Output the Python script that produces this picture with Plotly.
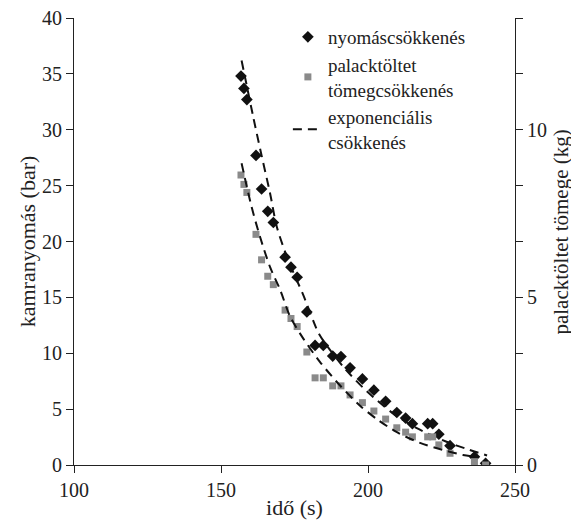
import plotly.graph_objects as go

# time points (s)
ido = [156.8, 157.8, 158.8, 161.9, 163.8, 165.9, 167.8, 171.8, 173.8, 175.9,
       179.2, 182.0, 184.8, 188.0, 190.8, 193.9, 198.1, 202.0, 206.0, 209.8,
       212.8, 215.1, 220.3, 222.0, 224.1, 227.9, 236.2, 240.0]
# chamber pressure (bar)
nyomas = [34.8, 33.7, 32.7, 27.7, 24.7, 22.7, 21.7, 18.6, 17.7, 16.8,
          13.7, 10.7, 10.7, 9.75, 9.7, 8.7, 7.7, 6.7, 5.7, 4.7,
          4.2, 3.7, 3.7, 3.7, 2.75, 1.73, 0.74, 0.15]
# bottle filling mass (kg)
tomeg = [8.65, 8.37, 8.13, 6.88, 6.12, 5.63, 5.38, 4.62, 4.37, 4.13,
         3.37, 2.6, 2.6, 2.36, 2.36, 2.09, 1.86, 1.61, 1.37, 1.11,
         0.98, 0.84, 0.84, 0.84, 0.6, 0.35, 0.1, 0.0]

# exponential fit curves
fit_p_t = [157.0, 161.0, 163.8, 166.7, 169.0, 172.9, 178.0, 183.0, 185.4, 192.2,
           199.6, 208.6, 216.6, 226.5, 234.0, 240.5]
fit_p_y = [36.2, 31.1, 27.7, 24.3, 21.3, 18.3, 15.2, 11.9, 10.9, 8.6,
           6.6, 4.6, 3.3, 2.1, 1.4, 0.85]
fit_m_t = [157.0, 160.4, 163.3, 166.7, 170.1, 173.5, 178.0, 183.7, 190.5, 197.3,
           203.0, 210.0, 217.7, 225.5, 232.3, 236.0]
fit_m_y = [9.0, 7.7, 6.8, 5.9, 5.23, 4.43, 3.77, 3.07, 2.37, 1.77,
           1.37, 0.97, 0.66, 0.45, 0.3, 0.25]

x_ticks = [100, 150, 200, 250]
y_ticks = [0, 5, 10, 15, 20, 25, 30, 35, 40]
y2_tickvals = [i * 5 / 3 for i in range(9)]
y2_ticktext = ["0", "", "", "5", "", "", "10", "", ""]

FONT = "Liberation Serif"
INK = "#222222"
TICK_SIZE = 20
TITLE_SIZE = 22

fig = go.Figure()
fig.add_trace(go.Scatter(
    x=ido, y=nyomas, mode="markers", name="nyomáscsökkenés",
    marker=dict(symbol="diamond", size=9, color="#111111"),
))
fig.add_trace(go.Scatter(
    x=ido, y=tomeg, yaxis="y2", mode="markers",
    name="palacktöltet<br>tömegcsökkenés",
    marker=dict(symbol="square", size=7, color="#8a8a8a"),
))
fig.add_trace(go.Scatter(
    x=fit_p_t, y=fit_p_y, mode="lines", name="exponenciális<br>csökkenés",
    line=dict(color="#111111", width=2, dash="9px,6px", shape="spline", smoothing=0.8),
))
fig.add_trace(go.Scatter(
    x=fit_m_t, y=fit_m_y, yaxis="y2", mode="lines", showlegend=False,
    line=dict(color="#111111", width=2, dash="9px,6px", shape="spline", smoothing=0.8),
))

axis_common = dict(
    showgrid=False, zeroline=False, showline=True, linecolor=INK, linewidth=1.2,
    ticks="outside", ticklen=7, tickcolor=INK, tickwidth=1.2, automargin=False,
    ticklabeloverflow="allow",
    tickfont=dict(family=FONT, size=TICK_SIZE, color=INK),
)

fig.update_layout(
    width=571, height=512,
    margin=dict(l=66, r=64, t=10, b=55),
    paper_bgcolor="white", plot_bgcolor="white",
    font=dict(family=FONT, size=TITLE_SIZE, color=INK),
    xaxis=dict(range=[100, 250], tickvals=x_ticks, **axis_common,
               title=dict(text="idő (s)", font=dict(family=FONT, size=TITLE_SIZE, color=INK), standoff=0)),
    yaxis=dict(range=[0, 40], tickvals=y_ticks, **axis_common,
               title=dict(text="kamranyomás (bar)", font=dict(family=FONT, size=TITLE_SIZE, color=INK), standoff=0)),
    yaxis2=dict(range=[0, 40 / 3], overlaying="y", side="right",
                tickvals=y2_tickvals, ticktext=y2_ticktext, **axis_common),
    annotations=[dict(
        text="palacktöltet tömege (kg)", textangle=-90, showarrow=False,
        xref="paper", yref="paper", x=1.0, y=0.52, xanchor="center", yanchor="middle",
        xshift=46, font=dict(family=FONT, size=21, color=INK),
    )],
    legend=dict(x=0.485, y=1.0, xanchor="left", yanchor="top",
                bgcolor="rgba(0,0,0,0)", font=dict(family=FONT, size=19, color=INK),
                itemwidth=30, tracegroupgap=0),
    showlegend=True,
)

fig.write_html("out.html")
